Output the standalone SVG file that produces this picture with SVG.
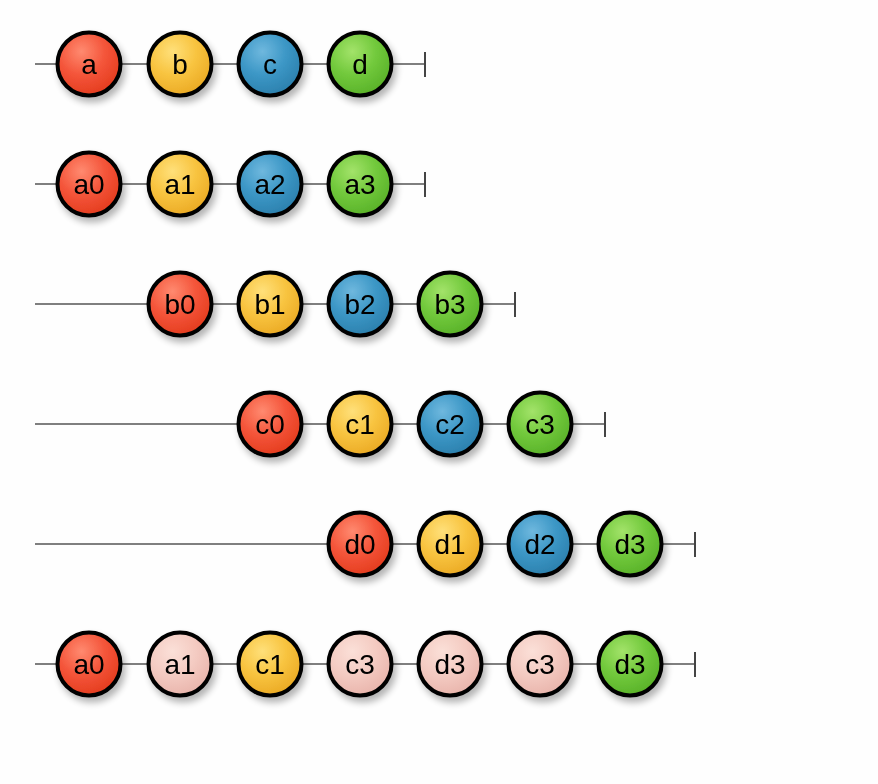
<svg xmlns="http://www.w3.org/2000/svg" width="878" height="784" viewBox="0 0 878 784">
<defs>
<radialGradient id="gR" cx="0.38" cy="0.3" r="0.75"><stop offset="0" stop-color="#ff8a70"/><stop offset="0.5" stop-color="#f4553a"/><stop offset="1" stop-color="#e33a1c"/></radialGradient>
<radialGradient id="gY" cx="0.38" cy="0.3" r="0.75"><stop offset="0" stop-color="#ffe07a"/><stop offset="0.5" stop-color="#f8c440"/><stop offset="1" stop-color="#eaa822"/></radialGradient>
<radialGradient id="gB" cx="0.38" cy="0.3" r="0.75"><stop offset="0" stop-color="#6fb8de"/><stop offset="0.5" stop-color="#3c97c6"/><stop offset="1" stop-color="#2a7eab"/></radialGradient>
<radialGradient id="gG" cx="0.38" cy="0.3" r="0.75"><stop offset="0" stop-color="#a3e36a"/><stop offset="0.5" stop-color="#72c93c"/><stop offset="1" stop-color="#57b027"/></radialGradient>
<radialGradient id="gP" cx="0.38" cy="0.3" r="0.75"><stop offset="0" stop-color="#fbe0d8"/><stop offset="0.5" stop-color="#f4cbc2"/><stop offset="1" stop-color="#e8b3aa"/></radialGradient>
<filter id="sh" x="-30%" y="-30%" width="170%" height="170%"><feGaussianBlur in="SourceAlpha" stdDeviation="3.5"/><feOffset dx="3" dy="5"/><feComponentTransfer><feFuncA type="linear" slope="0.3"/></feComponentTransfer><feMerge><feMergeNode/><feMergeNode in="SourceGraphic"/></feMerge></filter>
</defs>
<style>
.ln{stroke:#555;stroke-width:1.5;fill:none}
.tk{stroke:#444;stroke-width:2;fill:none}
.c{stroke:#000;stroke-width:4}
.t{font-family:"Liberation Sans",Arial,sans-serif;font-size:28px;fill:#000;text-anchor:middle}
.r{fill:url(#gR)}.y{fill:url(#gY)}.b{fill:url(#gB)}.g{fill:url(#gG)}.p{fill:url(#gP)}
</style>
<rect width="878" height="784" fill="#fefefe"/>
<g id="connectors">
<line class="ln" x1="35" y1="64" x2="425" y2="64"/><line class="tk" x1="425" y1="52" x2="425" y2="77"/>
<line class="ln" x1="35" y1="184" x2="425" y2="184"/><line class="tk" x1="425" y1="172" x2="425" y2="197"/>
<line class="ln" x1="35" y1="304" x2="515" y2="304"/><line class="tk" x1="515" y1="292" x2="515" y2="317"/>
<line class="ln" x1="35" y1="424" x2="605" y2="424"/><line class="tk" x1="605" y1="412" x2="605" y2="437"/>
<line class="ln" x1="35" y1="544" x2="695" y2="544"/><line class="tk" x1="695" y1="532" x2="695" y2="557"/>
<line class="ln" x1="35" y1="664" x2="695" y2="664"/><line class="tk" x1="695" y1="652" x2="695" y2="677"/>
</g>
<g id="n-a" filter="url(#sh)"><circle class="c r" cx="89" cy="64" r="31.5"/><text class="t" x="89" y="74">a</text></g>
<g id="n-b" filter="url(#sh)"><circle class="c y" cx="180" cy="64" r="31.5"/><text class="t" x="180" y="74">b</text></g>
<g id="n-c" filter="url(#sh)"><circle class="c b" cx="270" cy="64" r="31.5"/><text class="t" x="270" y="74">c</text></g>
<g id="n-d" filter="url(#sh)"><circle class="c g" cx="360" cy="64" r="31.5"/><text class="t" x="360" y="74">d</text></g>

<g id="n-a0" filter="url(#sh)"><circle class="c r" cx="89" cy="184" r="31.5"/><text class="t" x="89" y="194">a0</text></g>
<g id="n-a1" filter="url(#sh)"><circle class="c y" cx="180" cy="184" r="31.5"/><text class="t" x="180" y="194">a1</text></g>
<g id="n-a2" filter="url(#sh)"><circle class="c b" cx="270" cy="184" r="31.5"/><text class="t" x="270" y="194">a2</text></g>
<g id="n-a3" filter="url(#sh)"><circle class="c g" cx="360" cy="184" r="31.5"/><text class="t" x="360" y="194">a3</text></g>

<g id="n-b0" filter="url(#sh)"><circle class="c r" cx="180" cy="304" r="31.5"/><text class="t" x="180" y="314">b0</text></g>
<g id="n-b1" filter="url(#sh)"><circle class="c y" cx="270" cy="304" r="31.5"/><text class="t" x="270" y="314">b1</text></g>
<g id="n-b2" filter="url(#sh)"><circle class="c b" cx="360" cy="304" r="31.5"/><text class="t" x="360" y="314">b2</text></g>
<g id="n-b3" filter="url(#sh)"><circle class="c g" cx="450" cy="304" r="31.5"/><text class="t" x="450" y="314">b3</text></g>

<g id="n-c0" filter="url(#sh)"><circle class="c r" cx="270" cy="424" r="31.5"/><text class="t" x="270" y="434">c0</text></g>
<g id="n-c1" filter="url(#sh)"><circle class="c y" cx="360" cy="424" r="31.5"/><text class="t" x="360" y="434">c1</text></g>
<g id="n-c2" filter="url(#sh)"><circle class="c b" cx="450" cy="424" r="31.5"/><text class="t" x="450" y="434">c2</text></g>
<g id="n-c3" filter="url(#sh)"><circle class="c g" cx="540" cy="424" r="31.5"/><text class="t" x="540" y="434">c3</text></g>

<g id="n-d0" filter="url(#sh)"><circle class="c r" cx="360" cy="544" r="31.5"/><text class="t" x="360" y="554">d0</text></g>
<g id="n-d1" filter="url(#sh)"><circle class="c y" cx="450" cy="544" r="31.5"/><text class="t" x="450" y="554">d1</text></g>
<g id="n-d2" filter="url(#sh)"><circle class="c b" cx="540" cy="544" r="31.5"/><text class="t" x="540" y="554">d2</text></g>
<g id="n-d3" filter="url(#sh)"><circle class="c g" cx="630" cy="544" r="31.5"/><text class="t" x="630" y="554">d3</text></g>

<g id="o-1" filter="url(#sh)"><circle class="c r" cx="89" cy="664" r="31.5"/><text class="t" x="89" y="674">a0</text></g>
<g id="o-2" filter="url(#sh)"><circle class="c p" cx="180" cy="664" r="31.5"/><text class="t" x="180" y="674">a1</text></g>
<g id="o-3" filter="url(#sh)"><circle class="c y" cx="270" cy="664" r="31.5"/><text class="t" x="270" y="674">c1</text></g>
<g id="o-4" filter="url(#sh)"><circle class="c p" cx="360" cy="664" r="31.5"/><text class="t" x="360" y="674">c3</text></g>
<g id="o-5" filter="url(#sh)"><circle class="c p" cx="450" cy="664" r="31.5"/><text class="t" x="450" y="674">d3</text></g>
<g id="o-6" filter="url(#sh)"><circle class="c p" cx="540" cy="664" r="31.5"/><text class="t" x="540" y="674">c3</text></g>
<g id="o-7" filter="url(#sh)"><circle class="c g" cx="630" cy="664" r="31.5"/><text class="t" x="630" y="674">d3</text></g>
</svg>
